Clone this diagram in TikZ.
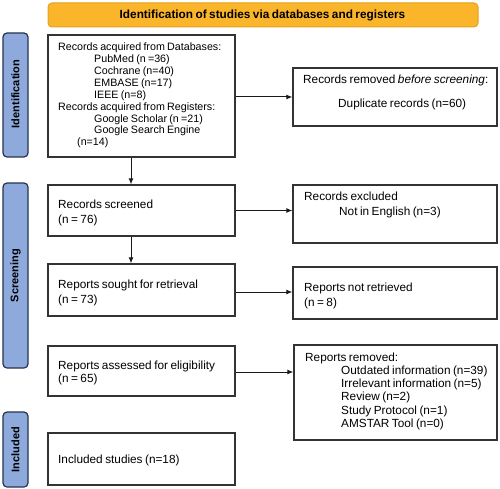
\documentclass[tikz,border=0pt]{standalone}
\usepackage{fontspec}
\setmainfont[WordSpace=0.75]{Liberation Sans}
\usetikzlibrary{arrows.meta}
\definecolor{hdrfill}{HTML}{FAB52A}
\definecolor{hdrdraw}{HTML}{E3A21C}
\definecolor{barfill}{HTML}{8EA9DB}
\definecolor{bardraw}{HTML}{26344F}
\definecolor{boxdraw}{HTML}{333333}
\tikzset{
  box/.style={draw=boxdraw, line width=1.3pt, fill=white, rectangle, inner sep=0pt},
  sidebar/.style={draw=bardraw, line width=1.2pt, fill=barfill, rounded corners=4pt, inner sep=0pt},
  header/.style={draw=hdrdraw, line width=1pt, fill=hdrfill, rounded corners=4pt, inner sep=0pt},
  txt/.style={anchor=north west, inner sep=0pt, align=left, font=\fontsize{11.8}{#1}\selectfont},
  bartxt/.style={rotate=90, font=\fontsize{11}{13}\selectfont\bfseries, inner sep=0pt},
  arr/.style={draw=black!90, line width=1pt, -{Latex[length=6pt,width=5pt]}}
}
\begin{document}
\begin{tikzpicture}[x=1pt,y=-1pt]
\useasboundingbox (0,0) rectangle (500,489);
% header
\node[header, minimum width=430, minimum height=24] (hdr) at (263,15) {};
\node[font=\fontsize{11.8}{13}\selectfont\bfseries, inner sep=0pt] (hdrtxt) at (262.5,15) {Identification of studies via databases and registers};
% side bars
\node[sidebar, minimum width=25, minimum height=124] (sbid) at (15.5,95) {};
\node[bartxt] (sbidt) at (15.5,94) {Identification};
\node[sidebar, minimum width=25, minimum height=185] (sbsc) at (15.5,275.5) {};
\node[bartxt] (sbsct) at (15.5,275.5) {Screening};
\node[sidebar, minimum width=25, minimum height=75] (sbin) at (15.5,449.5) {};
\node[bartxt] (sbint) at (15.5,449.5) {Included};
% left boxes
\node[box, minimum width=187, minimum height=122] (b1) at (141.5,96) {};
\node[box, minimum width=187, minimum height=51] (b2) at (141.5,210.5) {};
\node[box, minimum width=187, minimum height=52] (b3) at (141.5,290) {};
\node[box, minimum width=187, minimum height=50] (b4) at (141.5,371) {};
\node[box, minimum width=187, minimum height=52] (b5) at (141.5,459) {};
% right boxes
\node[box, minimum width=204, minimum height=58] (r1) at (395,97) {};
\node[box, minimum width=204, minimum height=58] (r2) at (395,214) {};
\node[box, minimum width=204, minimum height=52] (r3) at (395,293) {};
\node[box, minimum width=203, minimum height=95] (r4) at (395.5,392.5) {};
% texts left
\node[txt=11.9, font=\fontsize{10.7}{11.9}\selectfont] (t1) at (58,42.7) {Records acquired from Databases:\\
\hspace*{36pt}PubMed (n =36)\\
\hspace*{36pt}Cochrane (n=40)\\
\hspace*{36pt}EMBASE (n=17)\\
\hspace*{36pt}IEEE (n=8)\\
Records acquired from Registers:\\
\hspace*{36pt}Google Scholar (n =21)\\
\hspace*{36pt}Google Search Engine\\
\hspace*{19pt}(n=14)};
\node[txt=15] (t2) at (58,199.6) {Records screened\\(n = 76)};
\node[txt=15] (t3) at (58,279.6) {Reports sought for retrieval\\(n = 73)};
\node[txt=13] (t4) at (58,360.6) {Reports assessed for eligibility\\(n = 65)};
\node[txt=12] (t5) at (58,454.6) {Included studies (n=18)};
% texts right
\node[txt=24] (u1) at (303,74.6) {Records removed \textit{before screening}:\\
\hspace*{35pt}Duplicate records (n=60)};
\node[txt=15] (u2) at (304,191.6) {Records excluded\\
\hspace*{35pt}Not in English (n=3)};
\node[txt=15] (u3) at (304,282.6) {Reports not retrieved\\(n = 8)};
\node[txt=13.2] (u4) at (305,352.6) {Reports removed:\\
\hspace*{36pt}Outdated information (n=39)\\
\hspace*{36pt}Irrelevant information (n=5)\\
\hspace*{36pt}Review (n=2)\\
\hspace*{36pt}Study Protocol (n=1)\\
\hspace*{36pt}AMSTAR Tool (n=0)};
% arrows
\coordinate (d1s) at (131,157);
\coordinate (d1e) at (131,185);
\coordinate (d2s) at (131,236);
\coordinate (d2e) at (131,264);
\draw[arr] (b1.south -| d1s) -- (b2.north -| d1e);
\draw[arr] (b2.south -| d2s) -- (b3.north -| d2e);
\draw[arr] (b1.east |- r1.west) -- (r1.west);
\draw[arr] (b2.east) -- (b2.east -| r2.west);
\draw[arr] (b3.east |- 0,292) -- (r3.west |- 0,292);
\draw[arr] (b4.east |- 0,372) -- (r4.west |- 0,372);
\end{tikzpicture}
\end{document}
